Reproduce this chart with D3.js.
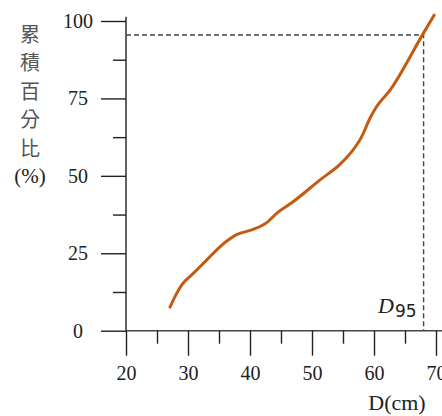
<!DOCTYPE html>
<html>
<head>
<meta charset="utf-8">
<script src="https://cdn.jsdelivr.net/npm/d3@7"></script>
<style>
  body { margin: 0; background: #fff; }
  svg { display: block; }
</style>
</head>
<body>
<script>
// cumulative percent vs diameter
const diam = [27.1, 27.9, 29.0, 30.85, 33.0, 35.15, 37.85, 40.5, 42.7, 44.3, 47.0, 51.3, 54.5, 56.4, 58.0, 59.35, 60.4, 62.6, 67.95, 69.7]
const cumPct = [7.6, 11.0, 14.8, 18.5, 22.8, 27.1, 31.0, 32.7, 34.9, 37.9, 41.7, 48.7, 53.7, 57.8, 62.6, 68.6, 72.3, 77.7, 96.0, 101.9]
const xMajor = [20, 30, 40, 50, 60, 70]
const xMinor = [25, 35, 45, 55, 65]
const yMajor = [0, 25, 50, 75, 100]
const yMinor = [12.5, 37.5, 62.5, 87.5]
const d95 = 68, p95 = 95.5
const yTitle = ['累', '積', '百', '分', '比', '(%)']

const width = 442, height = 416
const serif = '"Liberation Serif", "Times New Roman", serif'

const svg = d3.select('body').append('svg')
    .attr('width', width)
    .attr('height', height)

const x = d3.scaleLinear().domain([20, 70]).range([126, 436])
const y = d3.scaleLinear().domain([0, 100]).range([330.7, 21])

// axis lines
svg.append('line')
    .attr('x1', x(20)).attr('x2', x(20))
    .attr('y1', 16.7).attr('y2', y(0))
    .attr('stroke', '#222').attr('stroke-width', 1.4)
svg.append('line')
    .attr('x1', x(20)).attr('x2', width)
    .attr('y1', y(0)).attr('y2', y(0))
    .attr('stroke', '#444').attr('stroke-width', 1.4)

// y axis
const yAxis = svg.append('g')
    .attr('transform', 'translate(' + x(20) + ',0)')
    .call(d3.axisLeft(y).tickValues(yMajor).tickSize(25).tickSizeOuter(0))
yAxis.append('g')
    .call(d3.axisLeft(y).tickValues(yMinor).tickSize(13).tickFormat(''))
yAxis.selectAll('.domain').remove()
yAxis.selectAll('line').attr('stroke', '#222').attr('stroke-width', 1.4)
yAxis.selectAll('text')
    .attr('x', -48)
    .attr('text-anchor', 'middle')
    .attr('fill', '#222')
    .style('font-family', serif)
    .style('font-size', '20px')

// x axis
const xAxis = svg.append('g')
    .attr('transform', 'translate(0,' + y(0) + ')')
    .call(d3.axisBottom(x).tickValues(xMajor).tickSize(25).tickSizeOuter(0))
xAxis.append('g')
    .call(d3.axisBottom(x).tickValues(xMinor).tickSize(13).tickFormat(''))
xAxis.selectAll('.domain').remove()
xAxis.selectAll('line').attr('stroke', '#222').attr('stroke-width', 1.4)
xAxis.selectAll('text')
    .attr('y', 49)
    .attr('dy', 0)
    .attr('fill', '#222')
    .style('font-family', serif)
    .style('font-size', '20px')

// D95 guide lines
svg.append('path')
    .attr('d', 'M' + x(20) + ',' + y(p95) + 'H' + x(d95) + 'V' + y(0))
    .attr('fill', 'none')
    .attr('stroke', '#444')
    .attr('stroke-width', 1.4)
    .attr('stroke-dasharray', '5,3')

// curve
const pts = diam.map((d, i) => [d, cumPct[i]])
const line = d3.line()
    .x(d => x(d[0]))
    .y(d => y(d[1]))
    .curve(d3.curveMonotoneX)
svg.append('path')
    .datum(pts)
    .attr('d', line)
    .attr('fill', 'none')
    .attr('stroke', '#c55a11')
    .attr('stroke-width', 3)
    .attr('stroke-linecap', 'round')
    .attr('stroke-linejoin', 'round')

// labels
svg.selectAll('.ytitle')
    .data(yTitle)
    .enter()
    .append('text')
    .attr('class', 'ytitle')
    .attr('x', 30)
    .attr('y', (d, i) => 33 + i * 28.5)
    .attr('dominant-baseline', 'central')
    .attr('text-anchor', 'middle')
    .attr('fill', (d, i) => i < 5 ? '#555' : '#222')
    .style('font-family', (d, i) => i < 5 ? '"Noto Sans CJK TC", sans-serif' : serif)
    .style('font-size', (d, i) => i < 5 ? '20px' : '21px')
    .text(d => d)

svg.append('text')
    .attr('x', 397)
    .attr('y', 410)
    .attr('text-anchor', 'middle')
    .attr('fill', '#222')
    .style('font-family', serif)
    .style('font-size', '22px')
    .text('D(cm)')

const dl = svg.append('text')
    .attr('x', 378)
    .attr('y', 313)
    .attr('fill', '#222')
    .style('font-family', serif)
dl.append('tspan')
    .style('font-style', 'italic')
    .style('font-size', '22px')
    .text('D')
dl.append('tspan')
    .attr('dy', 4)
    .attr('dx', 1)
    .style('font-size', '17px')
    .style('font-family', '"DejaVu Sans", sans-serif')
    .text('95')
</script>
</body>
</html>
